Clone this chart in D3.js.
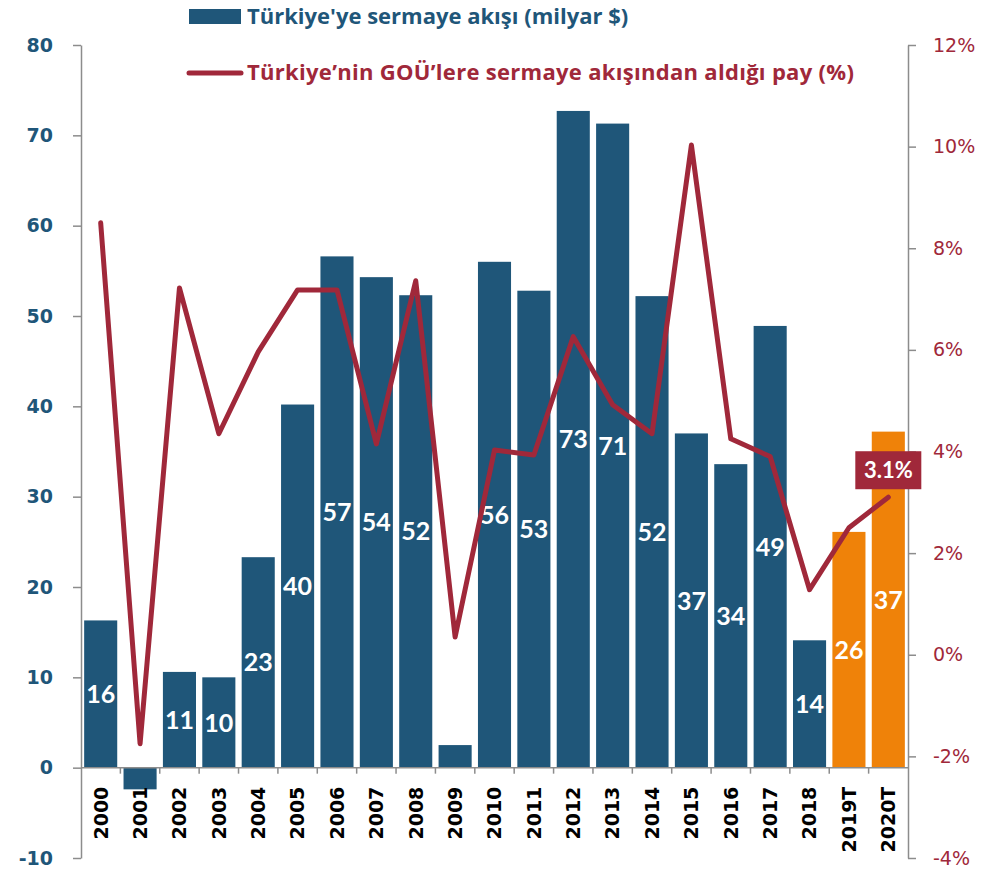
<!DOCTYPE html>
<html>
<head>
<meta charset="utf-8">
<script src="https://cdn.jsdelivr.net/npm/d3@7"></script>
<style>
  body { margin: 0; background: #fff; }
  svg { display: block; }
</style>
</head>
<body>
<svg id="chart"></svg>
<script>
// data
const years = ['2000', '2001', '2002', '2003', '2004', '2005', '2006', '2007', '2008', '2009',
  '2010', '2011', '2012', '2013', '2014', '2015', '2016', '2017', '2018', '2019T', '2020T'];
const flows = [16.3, -2.4, 10.6, 10.0, 23.3, 40.2, 56.6, 54.3, 52.3, 2.5,
  56.0, 52.8, 72.7, 71.3, 52.2, 37.0, 33.6, 48.9, 14.1, 26.1, 37.2];
const flowLabels = ['16', '', '11', '10', '23', '40', '57', '54', '52', '',
  '56', '53', '73', '71', '52', '37', '34', '49', '14', '26', '37'];
const share = [8.5, -1.75, 7.22, 4.35, 5.96, 7.18, 7.18, 4.15, 7.36, 0.35,
  4.03, 3.93, 6.26, 4.92, 4.35, 10.03, 4.25, 3.9, 1.28, 2.5, 3.1];
const forecast = ['2019T', '2020T'];
const leftTicks = [-10, 0, 10, 20, 30, 40, 50, 60, 70, 80];
const rightTicks = [-4, -2, 0, 2, 4, 6, 8, 10, 12];
const legendBars = "Türkiye'ye sermaye akışı (milyar $)";
const legendLine = 'Türkiye’nin GOÜ’lere sermaye akışından aldığı pay (%)';
const calloutText = '3.1%';

const blue = '#1f5679';
const orange = '#ef8209';
const red = '#a0283a';
const grey = '#8c8c8c';

// setting up svg
const w = 982;
const h = 872;
const m = { top: 45, right: 74, bottom: 14, left: 81 };
const svg = d3.select('#chart').attr('width', w).attr('height', h);

// scales
const x = d3.scaleBand().domain(years).range([m.left, w - m.right])
  .paddingInner(0.16).paddingOuter(0.08);
const yL = d3.scaleLinear().domain([-10, 80]).range([h - m.bottom, m.top]);
const yR = d3.scaleLinear().domain([-4, 12]).range([h - m.bottom, m.top]);

// bars
svg.append('g')
  .selectAll('rect')
  .data(years)
  .join('rect')
  .attr('x', (d) => x(d))
  .attr('width', x.bandwidth())
  .attr('y', (d, i) => yL(Math.max(0, flows[i])))
  .attr('height', (d, i) => Math.abs(yL(flows[i]) - yL(0)))
  .attr('fill', (d) => (forecast.includes(d) ? orange : blue));

// bar labels at the middle of each bar
svg.append('g')
  .selectAll('text')
  .data(years)
  .join('text')
  .attr('x', (d) => x(d) + x.bandwidth() / 2)
  .attr('y', (d, i) => yL(flows[i] / 2))
  .attr('dy', '0.36em')
  .attr('text-anchor', 'middle')
  .attr('fill', '#fff')
  .style('font', 'bold 25px Lato, sans-serif')
  .text((d, i) => flowLabels[i]);

// left axis
const axL = svg.append('g')
  .attr('transform', `translate(${m.left},0)`)
  .call(d3.axisLeft(yL).tickValues(leftTicks).tickSize(8).tickPadding(20).tickSizeOuter(0)
    .tickFormat((d) => String(d)));
axL.selectAll('path, line').attr('stroke', grey).attr('stroke-width', 1.5);
axL.selectAll('text')
  .attr('fill', blue)
  .style('font', 'bold 19px "DejaVu Sans", sans-serif');

// right axis
const axR = svg.append('g')
  .attr('transform', `translate(${w - m.right},0)`)
  .call(d3.axisRight(yR).tickValues(rightTicks).tickSize(8).tickPadding(17).tickSizeOuter(0)
    .tickFormat((d) => d + '%'));
axR.selectAll('path, line').attr('stroke', grey).attr('stroke-width', 1.5);
axR.selectAll('text')
  .attr('fill', red)
  .style('font', '19px "DejaVu Sans", sans-serif');

// category axis on the zero line
const y0 = yL(0);
svg.append('line')
  .attr('x1', m.left).attr('x2', w - m.right)
  .attr('y1', y0).attr('y2', y0)
  .attr('stroke', grey).attr('stroke-width', 1.5);
const gap = (x.step() * x.paddingInner()) / 2;
svg.append('g')
  .selectAll('line')
  .data(years.slice(1))
  .join('line')
  .attr('x1', (d) => x(d) - gap)
  .attr('x2', (d) => x(d) - gap)
  .attr('y1', y0).attr('y2', y0 + 6)
  .attr('stroke', grey).attr('stroke-width', 1.5);
svg.append('g')
  .selectAll('text')
  .data(years)
  .join('text')
  .attr('transform', (d) => `translate(${x(d) + x.bandwidth() / 2},${y0 + 19}) rotate(-90)`)
  .attr('dy', '0.36em')
  .attr('text-anchor', 'end')
  .attr('fill', '#000')
  .style('font', 'bold 19px "DejaVu Sans", sans-serif')
  .text((d) => d);

// share line
const line = d3.line()
  .x((d, i) => x(years[i]) + x.bandwidth() / 2)
  .y((d) => yR(d));
svg.append('path')
  .datum(share)
  .attr('d', line)
  .attr('fill', 'none')
  .attr('stroke', red)
  .attr('stroke-width', 5)
  .attr('stroke-linejoin', 'round')
  .attr('stroke-linecap', 'round');

// callout for the last point
const lastX = x(years[years.length - 1]) + x.bandwidth() / 2;
const lastY = yR(share[share.length - 1]);
const callout = svg.append('g').attr('transform', `translate(${lastX},${lastY - 27})`);
callout.append('rect')
  .attr('x', -33).attr('y', -19).attr('width', 66).attr('height', 38)
  .attr('fill', red);
callout.append('text')
  .attr('text-anchor', 'middle')
  .attr('dy', '0.36em')
  .attr('fill', '#fff')
  .style('font', 'bold 22px Lato, sans-serif')
  .text(calloutText);

// legend
const legend = svg.append('g');
legend.append('rect')
  .attr('x', 189).attr('y', 9).attr('width', 52).attr('height', 15)
  .attr('fill', blue);
legend.append('text')
  .attr('x', 247).attr('y', 24)
  .attr('fill', blue)
  .style('font', 'bold 22px "Open Sans", sans-serif')
  .text(legendBars);
legend.append('line')
  .attr('x1', 189).attr('x2', 241).attr('y1', 73).attr('y2', 73)
  .attr('stroke', red).attr('stroke-width', 5).attr('stroke-linecap', 'round');
legend.append('text')
  .attr('x', 247).attr('y', 80)
  .attr('fill', red)
  .style('font', 'bold 22px "Open Sans", sans-serif')
  .style('letter-spacing', '0.3px')
  .text(legendLine);
</script>
</body>
</html>
